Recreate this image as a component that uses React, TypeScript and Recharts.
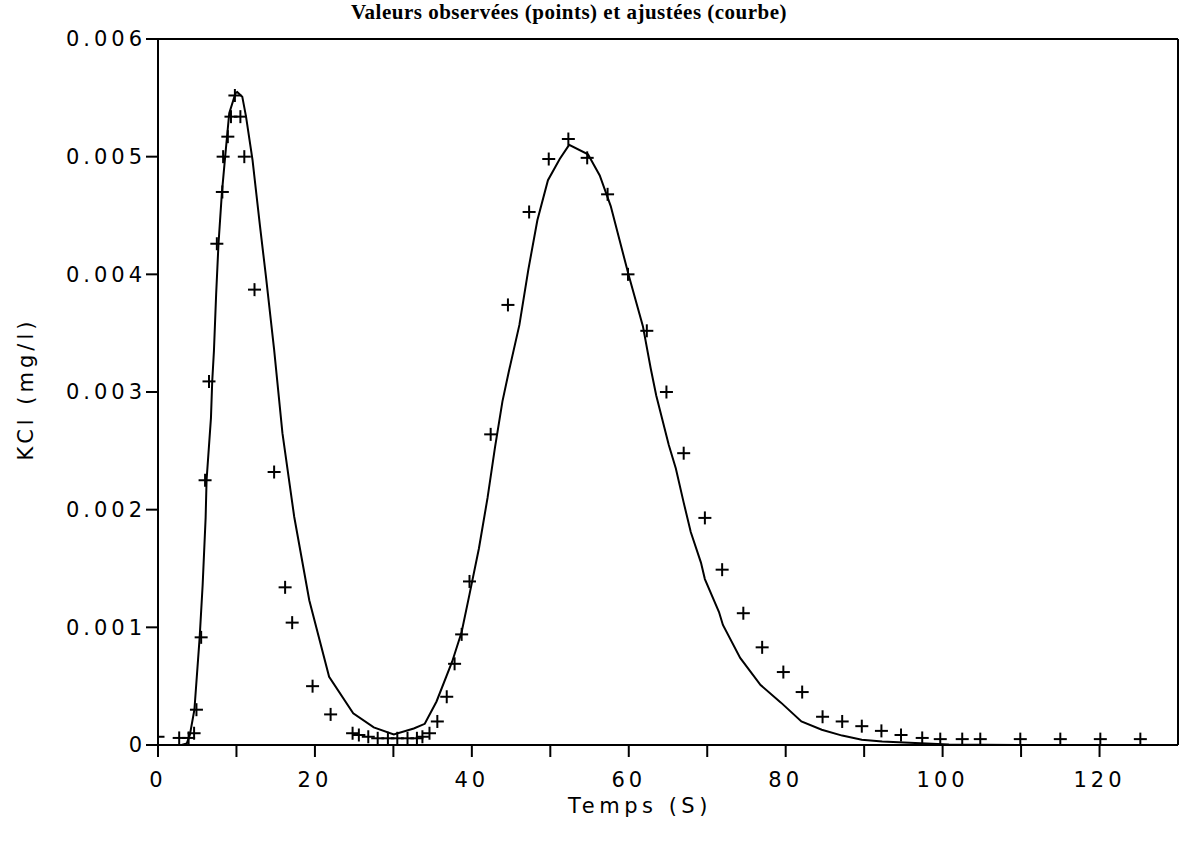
import React from 'react';
import { ComposedChart, Line, Scatter, XAxis, YAxis, ReferenceLine, Customized } from 'recharts';

// Observed values (points): time (s) and KCl (mg/l)
const observedTime = [
  0, 2.7, 3.9, 4.6, 4.9, 5.5, 6.0, 6.5, 7.5, 8.2, 8.3, 8.9, 9.3, 9.8, 10.5, 11.0, 12.3,
  14.8, 16.2, 17.1, 19.7, 22.0, 24.8, 25.6, 26.8, 28.0, 29.3, 30.5, 31.8, 33.0, 33.7,
  34.6, 35.6, 36.8, 37.8, 38.7, 39.7, 42.4, 44.6, 47.3, 49.8, 52.3, 54.7, 57.3, 59.9,
  62.3, 64.8, 67.0, 69.7, 71.9, 74.6, 77.0, 79.7, 82.1, 84.7, 87.2, 89.7, 92.2, 94.7,
  97.4, 99.7, 102.5, 104.8, 109.9, 115.0, 120.1, 125.2,
];
const observedKCl = [
  0.00007, 0.00006, 0.00006, 0.0001, 0.0003, 0.000915, 0.00225, 0.00309, 0.00426, 0.0047,
  0.005, 0.00517, 0.00534, 0.00552, 0.00534, 0.005, 0.00387,
  0.00232, 0.00134, 0.00104, 0.0005, 0.00026, 0.0001, 0.000085, 0.00007, 0.000057,
  0.000057, 0.000057, 0.000057, 0.000057, 0.00007,
  0.0001, 0.0002, 0.00041, 0.00069, 0.00094, 0.00139, 0.00264, 0.00374, 0.00453, 0.00498,
  0.00515, 0.00499, 0.00468, 0.004,
  0.00352, 0.003, 0.00248, 0.00193, 0.00149, 0.00112, 0.00083, 0.00062, 0.00045, 0.00024,
  0.0002, 0.00016, 0.00012, 0.000085,
  0.00006, 0.00005, 0.00005, 0.00005, 0.00005, 0.00005, 0.00005, 0.00005,
];

// Fitted values (curve)
const fittedTime = [
  0, 3.0, 3.67, 4.06, 4.64, 5.31, 5.69, 6.07, 6.19, 6.75, 6.91, 7.13, 7.41, 7.71, 8.14,
  8.56, 9.08, 9.88, 10.1, 10.74, 11.22, 12.05, 13.0, 13.76, 14.8, 15.86, 17.36, 19.28,
  21.81, 24.88, 27.5, 30.05, 32.6, 34.0, 35.5, 37.5, 38.7, 39.7, 40.9, 42.0, 42.95,
  43.9, 44.7, 46.06, 47.2, 48.35, 49.7, 51.2, 52.4, 54.8, 56.3, 57.7, 60.0, 61.8, 62.8,
  63.5, 65.1, 66.0, 67.0, 67.9, 69.2, 69.7, 71.5, 72.0, 74.2, 76.8, 79.4, 82.0, 84.6,
  87.2, 89.7, 92.3, 96.5, 100.8, 110, 130,
];
const fittedKCl = [
  0, 0, 0.000014, 0.000086, 0.0003, 0.000915, 0.00136, 0.00193, 0.00225, 0.00278, 0.00309,
  0.00335, 0.00383, 0.00426, 0.00469,
  0.005, 0.00537, 0.00554, 0.00555, 0.00551, 0.00534, 0.00497, 0.00441, 0.00398, 0.00336,
  0.00265, 0.00194, 0.00123,
  0.00058, 0.00027, 0.00015, 0.00009, 0.00014, 0.00018, 0.00037, 0.00071, 0.00096, 0.00128,
  0.00167, 0.0021, 0.00253,
  0.00292, 0.00317, 0.00357, 0.00404, 0.00446, 0.0048, 0.00498, 0.0051, 0.00502, 0.00484,
  0.00458, 0.00399, 0.00356, 0.0032,
  0.00297, 0.00255, 0.00235, 0.00206, 0.00181, 0.00155, 0.00141, 0.00113, 0.00102, 0.00074,
  0.00051, 0.00036, 0.0002, 0.00013,
  0.00008, 0.000045, 0.00003, 0.000016, 0.000005, 0, 0,
];

const xTicks = [0, 10, 20, 30, 40, 50, 60, 70, 80, 90, 100, 110, 120];
const yTicks = [0, 0.001, 0.002, 0.003, 0.004, 0.005, 0.006];

const observed = observedTime.map((x, i) => ({ x, y: observedKCl[i] }));
const fitted = fittedTime.map((x, i) => ({ x, y: fittedKCl[i] }));

const FONT = "'DejaVu Sans', sans-serif";

const Cross = (props: any) => {
  const { cx, cy } = props;
  if (cx == null || cy == null) return null;
  return (
    <g>
      <line x1={cx - 6.5} y1={cy} x2={cx + 6.5} y2={cy} stroke="#000" strokeWidth={2} />
      <line x1={cx} y1={cy - 6.5} x2={cx} y2={cy + 6.5} stroke="#000" strokeWidth={2} />
    </g>
  );
};

const Texts = () => (
  <g>
    <text
      x={569}
      y={19}
      textAnchor="middle"
      fontFamily="'Liberation Serif', serif"
      fontWeight="bold"
      fontSize={21}
      letterSpacing={0.5}
      fill="#000"
    >
      Valeurs observées (points) et ajustées (courbe)
    </text>
    <text x={640} y={813} textAnchor="middle" fontFamily={FONT} fontSize={21} letterSpacing={4.5} fill="#000">
      Temps (S)
    </text>
    <text
      transform="translate(33,389) rotate(-90)"
      textAnchor="middle"
      fontFamily={FONT}
      fontSize={21}
      letterSpacing={4}
      fill="#000"
    >
      KCl (mg/l)
    </text>
  </g>
);

export default function App() {
  return (
    <div style={{ position: 'absolute', left: 0, top: 0, width: 1192, height: 851, background: '#fff' }}>
      <ComposedChart width={1192} height={851} margin={{ top: 39, right: 14, bottom: 0, left: 0 }}>
        <XAxis
          type="number"
          dataKey="x"
          domain={[0, 130]}
          ticks={xTicks}
          interval={0}
          tickFormatter={(v: number) => (v % 20 === 0 ? String(v) : '')}
          height={106}
          tickSize={12}
          tickMargin={15}
          axisLine={{ stroke: '#000', strokeWidth: 2 }}
          tickLine={{ stroke: '#000', strokeWidth: 2 }}
          tick={{ fill: '#000', fontSize: 21, fontFamily: FONT, letterSpacing: 4 }}
          allowDataOverflow
        />
        <YAxis
          type="number"
          domain={[0, 0.006]}
          ticks={yTicks}
          interval={0}
          width={158}
          tickSize={12}
          tickMargin={0}
          tickFormatter={(v: number) => (v === 0 ? '0' : v.toFixed(3))}
          axisLine={{ stroke: '#000', strokeWidth: 2 }}
          tickLine={{ stroke: '#000', strokeWidth: 2 }}
          tick={{ fill: '#000', fontSize: 21, fontFamily: FONT, letterSpacing: 4 }}
          allowDataOverflow
        />
        <ReferenceLine y={0.006} stroke="#000" strokeWidth={2} ifOverflow="visible" />
        <ReferenceLine x={130} stroke="#000" strokeWidth={2} ifOverflow="visible" />
        <Line
          data={fitted}
          dataKey="y"
          type="linear"
          stroke="#000"
          strokeWidth={2}
          dot={false}
          activeDot={false}
          isAnimationActive={false}
        />
        <Scatter data={observed} dataKey="y" shape={Cross} isAnimationActive={false} />
        <Customized component={Texts} />
      </ComposedChart>
    </div>
  );
}
